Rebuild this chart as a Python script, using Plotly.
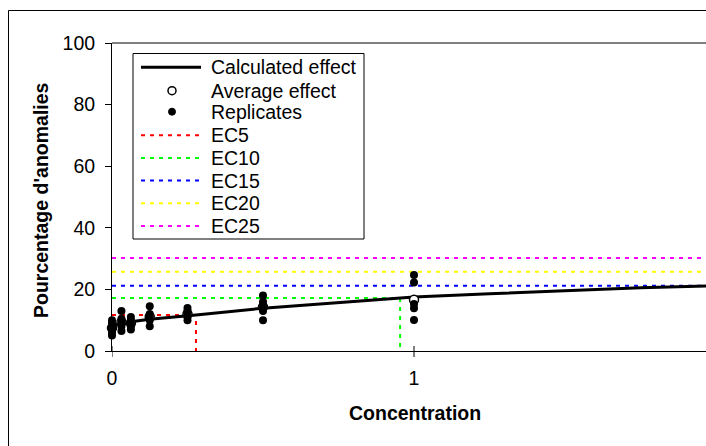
import plotly.graph_objects as go

# ---- data ----
conc = [0, 0.03125, 0.0625, 0.125, 0.25, 0.5, 1.0]
replicates = [
    [10, 9, 8, 7.5, 7, 6, 5],
    [13, 10.5, 9, 8, 6.5],
    [11, 10, 9, 8, 7],
    [14.5, 12, 11, 10, 8],
    [14, 13, 12, 11, 10],
    [18, 16, 15, 14, 13, 10],
    [24.7, 22.2, 15.3, 13.9, 10.1],
]
average = [7.5, 9.4, 9.0, 11.1, 12.0, 14.3, 16.6]

curve_conc = [0, 0.03125, 0.0625, 0.125, 0.25, 0.278, 0.5, 0.75, 0.954, 1.0, 1.25, 1.5, 1.75, 2.05]
curve_effect = [8.3, 9.0, 9.5, 10.3, 11.4, 11.7, 13.9, 15.8, 17.2, 17.5, 18.6, 19.6, 20.5, 21.3]

ec_names = ["EC5", "EC10", "EC15", "EC20", "EC25"]
ec_effect = [11.7, 17.2, 21.2, 25.7, 30.2]
ec_conc = [0.278, 0.954, 2.1, 2.6, 3.3]
ec_colors = ["#FF0000", "#00FF00", "#0000FF", "#FFFF00", "#FF00FF"]

legend_labels = ["Calculated effect", "Average effect", "Replicates"] + ec_names

y_ticks = [0, 20, 40, 60, 80, 100]
x_ticks = [0, 1]

FONT = "Arial, Liberation Sans, sans-serif"
FS = 19.5
DASH = "4px,5px"

fig = go.Figure()

# EC lines (drawn first, under the data)
for name, e, c, col in zip(ec_names, ec_effect, ec_conc, ec_colors):
    fig.add_trace(go.Scatter(
        x=[0, c, c], y=[e, e, 0], mode="lines", name=name,
        line=dict(color=col, width=2, dash=DASH), hoverinfo="skip",
    ))

fig.add_trace(go.Scatter(
    x=curve_conc, y=curve_effect, mode="lines", name="Calculated effect",
    line=dict(color="black", width=3),
))

fig.add_trace(go.Scatter(
    x=conc, y=average, mode="markers", name="Average effect",
    marker=dict(symbol="circle", size=9, color="white", line=dict(color="black", width=1.5)),
    cliponaxis=False,
))

rx, ry = [], []
for c, reps in zip(conc, replicates):
    for r in reps:
        rx.append(c)
        ry.append(r)

fig.add_trace(go.Scatter(
    x=rx, y=ry, mode="markers", name="Replicates",
    marker=dict(symbol="circle", size=8, color="black"),
    cliponaxis=False,
))

# plot geometry: left 112, right 706, top 43, bottom 351
W, H = 706, 446
L, R, T, B = 112, 0, 43, 95
pw, ph = W - L - R, H - T - B

def px_x(p):
    return (p - L) / pw

def px_y(p):
    return (H - B - p) / ph

shapes = [
    # top border of plot area
    dict(type="line", xref="paper", yref="paper", x0=0, x1=1.05, y0=1, y1=1,
         line=dict(color="black", width=1)),
    # outer chart border (left and top)
    dict(type="line", xref="paper", yref="paper", x0=px_x(8.5), x1=px_x(8.5),
         y0=px_y(10.5), y1=px_y(460), line=dict(color="black", width=1)),
    dict(type="line", xref="paper", yref="paper", x0=px_x(8.5), x1=px_x(720),
         y0=px_y(10.5), y1=px_y(10.5), line=dict(color="black", width=1)),
]
# x ticks crossing the axis
for t in x_ticks:
    shapes.append(dict(type="line", xref="x", yref="paper", ysizemode="pixel", yanchor=0,
                       x0=t, x1=t, y0=-6, y1=5, line=dict(color="black", width=1)))

# ---- legend (manual, to match spacing) ----
leg_left, leg_top, leg_right, leg_bottom = 133, 53.5, 364, 239
shapes.append(dict(type="rect", xref="paper", yref="paper",
                   x0=px_x(leg_left), x1=px_x(leg_right), y0=px_y(leg_top), y1=px_y(leg_bottom),
                   line=dict(color="black", width=1), fillcolor="white", layer="above"))
row_y = [67.3, 90.7, 111.7, 135.2, 157.9, 180.6, 203.3, 226.0]
sym_x0, sym_x1, sym_xc, text_x = 141, 201, 172, 209
annotations = []
for i, lab in enumerate(legend_labels):
    yy = px_y(row_y[i])
    if i == 0:
        shapes.append(dict(type="line", xref="paper", yref="paper", x0=px_x(sym_x0), x1=px_x(sym_x1),
                           y0=yy, y1=yy, line=dict(color="black", width=3), layer="above"))
    elif i == 1:
        shapes.append(dict(type="circle", xref="paper", yref="paper", xsizemode="pixel", ysizemode="pixel",
                           xanchor=px_x(sym_xc), yanchor=yy, x0=-4, x1=4, y0=-4, y1=4,
                           line=dict(color="black", width=1.5), fillcolor="white", layer="above"))
    elif i == 2:
        shapes.append(dict(type="circle", xref="paper", yref="paper", xsizemode="pixel", ysizemode="pixel",
                           xanchor=px_x(sym_xc), yanchor=yy, x0=-3.5, x1=3.5, y0=-3.5, y1=3.5,
                           line=dict(color="black", width=1), fillcolor="black", layer="above"))
    else:
        shapes.append(dict(type="line", xref="paper", yref="paper", x0=px_x(sym_x0), x1=px_x(sym_x1),
                           y0=yy, y1=yy, line=dict(color=ec_colors[i - 3], width=2, dash=DASH),
                           layer="above"))
    annotations.append(dict(text=lab, xref="paper", yref="paper", x=px_x(text_x), y=yy,
                            xanchor="left", yanchor="middle", showarrow=False,
                            font=dict(family=FONT, size=FS, color="black")))

annotations += [
    dict(text="<b>Concentration</b>", xref="paper", yref="paper",
         x=px_x(415), y=px_y(413), xanchor="center", yanchor="middle",
         showarrow=False, font=dict(family=FONT, size=FS, color="black")),
    dict(text="<b>Pourcentage d'anomalies</b>", xref="paper", yref="paper",
         x=px_x(41), y=px_y(200), xanchor="center", yanchor="middle", textangle=-90,
         showarrow=False, font=dict(family=FONT, size=FS, color="black")),
]

fig.update_layout(
    width=W, height=H,
    margin=dict(l=L, r=R, t=T, b=B, pad=0),
    paper_bgcolor="white", plot_bgcolor="white",
    font=dict(family=FONT, size=FS, color="black"),
    showlegend=False,
    xaxis=dict(
        range=[0, (706 - 112) / 302], tickvals=x_ticks, ticktext=[str(t) for t in x_ticks],
        showgrid=False, zeroline=False, showline=True, linecolor="black", linewidth=1,
        ticks="", ticklabelstandoff=10,
        tickfont=dict(family=FONT, size=FS, color="black"),
    ),
    yaxis=dict(
        range=[0, 100], tickvals=y_ticks,
        showgrid=False, zeroline=False, showline=True, linecolor="black", linewidth=1,
        ticks="outside", ticklen=6, tickcolor="black", ticklabelstandoff=6,
        tickfont=dict(family=FONT, size=FS, color="black"),
    ),
    shapes=shapes,
    annotations=annotations,
)

fig.write_html("out.html")
